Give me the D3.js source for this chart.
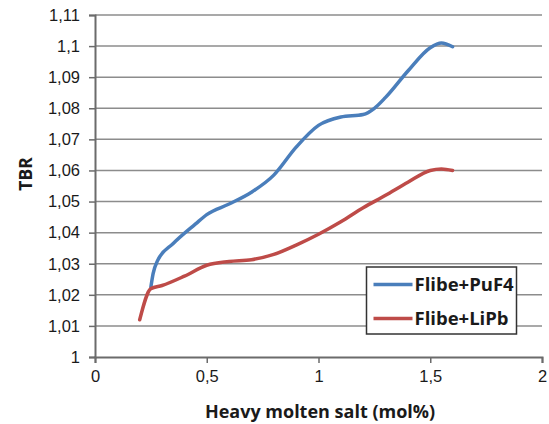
<!DOCTYPE html>
<html>
<head>
<meta charset="utf-8">
<script src="https://cdn.jsdelivr.net/npm/d3@7"></script>
<style>
  html, body { margin: 0; padding: 0; background: #fff; }
  svg { display: block; font-family: "Open Sans", Lato, sans-serif; }
</style>
</head>
<body>
<svg id="chart" width="549" height="424"></svg>
<script>
// data
const puf4X = [0.25, 0.26, 0.28, 0.35, 0.45, 0.5, 0.6, 0.7, 0.8, 0.9, 1.0, 1.1, 1.2, 1.25, 1.3, 1.4, 1.5, 1.55, 1.6];
const puf4Y = [1.0225, 1.0268, 1.031, 1.0365, 1.0428, 1.0458, 1.0492, 1.053, 1.0585, 1.0675, 1.0745, 1.0772, 1.078, 1.080, 1.0835, 1.092, 1.0995, 1.101, 1.0998];
const lipbX = [0.2, 0.25, 0.3, 0.4, 0.5, 0.6, 0.7, 0.8, 0.9, 1.0, 1.1, 1.2, 1.3, 1.4, 1.5, 1.55, 1.6];
const lipbY = [1.012, 1.022, 1.023, 1.026, 1.0295, 1.0307, 1.0313, 1.033, 1.036, 1.0395, 1.0435, 1.048, 1.052, 1.0562, 1.06, 1.0605, 1.06];
const seriesNames = ["Flibe+PuF4", "Flibe+LiPb"];
const seriesColors = ["#4a7ebb", "#be4b48"];
const xTicks = [0, 0.5, 1, 1.5, 2];
const yTicks = [1, 1.01, 1.02, 1.03, 1.04, 1.05, 1.06, 1.07, 1.08, 1.09, 1.1, 1.11];

const series = [
    puf4X.map((x, i) => ({ x, y: puf4Y[i] })),
    lipbX.map((x, i) => ({ x, y: lipbY[i] }))
];

const svg = d3.select("#chart");
const margin = { top: 15, right: 7, bottom: 67, left: 95 };
const width = 549, height = 424;

const loc = d3.formatLocale({ decimal: ",", thousands: ".", grouping: [3], currency: ["", ""] });
const fmt = loc.format("~g");

const x = d3.scaleLinear().domain([0, 2]).range([margin.left, width - margin.right]);
const y = d3.scaleLinear().domain([1, 1.11]).range([height - margin.bottom, margin.top]);

// gridlines
svg.append("g").selectAll("line")
    .data(yTicks.slice(1)).enter().append("line")
    .attr("x1", x(0)).attr("x2", x(2))
    .attr("y1", d => y(d)).attr("y2", d => y(d))
    .attr("stroke", "#8c8c8c").attr("stroke-width", 1.5);

// y axis
const yAxis = svg.append("g").attr("transform", `translate(${margin.left},0)`)
    .call(d3.axisLeft(y).tickValues(yTicks).tickFormat(fmt).tickSize(6).tickPadding(9));
yAxis.select(".domain").attr("stroke", "#6b6b6b").attr("stroke-width", 2);
yAxis.selectAll(".tick line").attr("stroke", "#6b6b6b").attr("stroke-width", 1.5);
yAxis.selectAll("text").attr("font-size", 16.5).attr("fill", "#1a1a1a");

// x axis
const xAxis = svg.append("g").attr("transform", `translate(0,${height - margin.bottom})`)
    .call(d3.axisBottom(x).tickValues(xTicks).tickFormat(fmt).tickSize(6).tickPadding(7));
xAxis.select(".domain").attr("stroke", "#6b6b6b").attr("stroke-width", 2);
xAxis.selectAll(".tick line").attr("stroke", "#6b6b6b").attr("stroke-width", 1.5);
xAxis.selectAll("text").attr("font-size", 16.5).attr("fill", "#1a1a1a");

// lines
const line = d3.line().x(d => x(d.x)).y(d => y(d.y)).curve(d3.curveMonotoneX);
svg.append("g").selectAll("path")
    .data(series).enter().append("path")
    .attr("d", line)
    .attr("fill", "none")
    .attr("stroke", (d, i) => seriesColors[i])
    .attr("stroke-width", 3.5)
    .attr("stroke-linecap", "round");

// axis titles
svg.append("text")
    .attr("x", 320).attr("y", 418)
    .attr("text-anchor", "middle")
    .attr("font-size", 18).attr("font-weight", "bold").attr("fill", "#1a1a1a")
    .text("Heavy molten salt (mol%)");
svg.append("text")
    .attr("transform", "translate(32,174) rotate(-90)")
    .attr("text-anchor", "middle")
    .attr("font-size", 17.5).attr("font-weight", "bold").attr("fill", "#1a1a1a")
    .text("TBR");

// legend
const legend = svg.append("g").attr("transform", "translate(366.5,267)");
legend.append("rect")
    .attr("width", 150).attr("height", 67)
    .attr("fill", "#fff").attr("stroke", "#333").attr("stroke-width", 1.5);
const items = legend.selectAll("g.item")
    .data(seriesNames).enter().append("g")
    .attr("transform", (d, i) => `translate(0,${17.5 + i * 34})`);
items.append("line")
    .attr("x1", 7).attr("x2", 46).attr("y1", 0).attr("y2", 0)
    .attr("stroke", (d, i) => seriesColors[i]).attr("stroke-width", 3.5);
items.append("text")
    .attr("x", 48).attr("y", 6.5)
    .attr("font-size", 18.5).attr("font-weight", "bold").attr("fill", "#1a1a1a")
    .text(d => d);
</script>
</body>
</html>
